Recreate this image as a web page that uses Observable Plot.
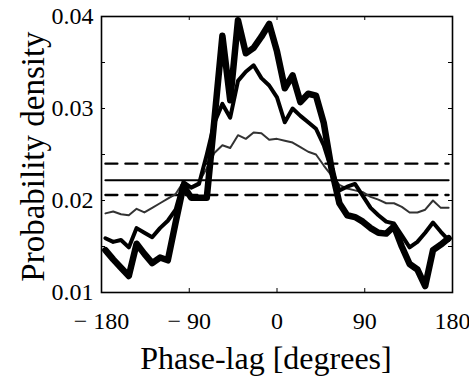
<!DOCTYPE html>
<html><head><meta charset="utf-8">
<script src="https://cdn.jsdelivr.net/npm/d3@7"></script>
<script src="https://cdn.jsdelivr.net/npm/@observablehq/plot@0.6"></script>
<style>
html,body{margin:0;padding:0;background:#fff;}
</style>
</head><body><div id="chart"></div>
<script>
// Bin centres (degrees)
const phaseLag = [-176,-168,-160,-152,-144,-136,-128,-120,-112,-104,-96,-88,-80,-72,-64,-56,-48,-40,-32,-24,-16,-8,0,8,16,24,32,40,48,56,64,72,80,88,96,104,112,120,128,136,144,152,160,168,176];
// thickest curve
const densityStrong = [0.0146,0.0136,0.0127,0.0118,0.0153,0.0142,0.0132,0.0138,0.0135,0.0176,0.0216,0.0203,0.0203,0.0203,0.0290,0.0379,0.0309,0.0396,0.0360,0.0366,0.0378,0.0392,0.0362,0.0322,0.0336,0.0307,0.0316,0.0314,0.0284,0.0234,0.0197,0.0184,0.0182,0.0177,0.0170,0.0165,0.0164,0.0172,0.0150,0.0131,0.0125,0.0107,0.0146,0.0152,0.0159];
// medium curve
const densityMid = [0.0159,0.0155,0.0157,0.0149,0.0170,0.0165,0.0160,0.0170,0.0178,0.0190,0.0220,0.0214,0.0218,0.0250,0.0285,0.0305,0.0290,0.0330,0.0340,0.0347,0.0333,0.0325,0.0312,0.0285,0.0300,0.0292,0.0285,0.0278,0.0260,0.0233,0.0211,0.0215,0.0218,0.0205,0.0192,0.0184,0.0177,0.0175,0.0162,0.0149,0.0155,0.0165,0.0176,0.0166,0.0157];
// thin grey curve
const densityWeak = [0.0186,0.0188,0.0185,0.0184,0.0191,0.0187,0.0192,0.0197,0.0202,0.0207,0.0220,0.0215,0.0220,0.0235,0.0252,0.0260,0.0257,0.0271,0.0267,0.0274,0.0273,0.0266,0.0267,0.0265,0.0263,0.0258,0.0253,0.0250,0.0238,0.0227,0.0217,0.0213,0.0211,0.0209,0.0204,0.0201,0.0197,0.0197,0.0193,0.0187,0.0187,0.0190,0.0200,0.0192,0.0192];
const boundSpan = [-176, 176];
const uniformLevel = [0.0222, 0.0222];
const upperBound = [0.0240, 0.0240];
const lowerBound = [0.0206, 0.0206];

const xTicks = [-180, -90, 0, 90, 180];
const xTickLabels = ["\u2212 180", "\u2212 90", "0", "90", "180"];
const yTicks = [0.01, 0.02, 0.03, 0.04];
const yTickLabels = ["0.01", "0.02", "0.03", "0.04"];
const yMinorTicks = [0.01, 0.015, 0.02, 0.025, 0.03, 0.035, 0.04];
const xTitle = "Phase-lag [degrees]";
const yTitle = "Probability density";

const toRows = (xs, ys) => xs.map((x, i) => ({x, y: ys[i]}));
const strong = toRows(phaseLag, densityStrong);
const mid = toRows(phaseLag, densityMid);
const weak = toRows(phaseLag, densityWeak);
const flat = toRows(boundSpan, uniformLevel);
const up = toRows(boundSpan, upperBound);
const lo = toRows(boundSpan, lowerBound);
const xLab = new Map(xTicks.map((t, i) => [t, xTickLabels[i]]));
const yLab = new Map(yTicks.map((t, i) => [t, yTickLabels[i]]));

const FONT = "Liberation Serif";
const W = 469, H = 378, ML = 101, MR = 17, MT = 16, MB = 86;
const PW = W - ML - MR, PH = H - MT - MB, TICK = 4;

const chart = Plot.plot({
  width: W, height: H,
  marginLeft: ML, marginRight: MR, marginTop: MT, marginBottom: MB,
  style: "font-family: 'Liberation Serif', serif; font-size: 24px; color: #000; background: #fff;",
  x: {domain: [-180, 180]},
  y: {domain: [0.01, 0.04]},
  marks: [
    Plot.line(up, {x: "x", y: "y", stroke: "#000", strokeWidth: 2.3, strokeDasharray: "12,8"}),
    Plot.line(lo, {x: "x", y: "y", stroke: "#000", strokeWidth: 2.3, strokeDasharray: "12,8"}),
    Plot.line(flat, {x: "x", y: "y", stroke: "#000", strokeWidth: 2}),
    Plot.line(weak, {x: "x", y: "y", stroke: "#333", strokeWidth: 2, strokeLinejoin: "round"}),
    Plot.line(mid, {x: "x", y: "y", stroke: "#000", strokeWidth: 4, strokeLinejoin: "round"}),
    Plot.line(strong, {x: "x", y: "y", stroke: "#000", strokeWidth: 6.5, strokeLinejoin: "round"}),
    Plot.ruleX(xTicks, {x: d => d, insetTop: PH - TICK, stroke: "#000", strokeWidth: 1}),
    Plot.ruleX(xTicks, {x: d => d, insetBottom: PH - TICK, stroke: "#000", strokeWidth: 1}),
    Plot.ruleY(yMinorTicks, {y: d => d, insetRight: PW - TICK, stroke: "#000", strokeWidth: 1}),
    Plot.ruleY(yMinorTicks, {y: d => d, insetLeft: PW - TICK, stroke: "#000", strokeWidth: 1}),
    Plot.frame({stroke: "#000", strokeWidth: 1.6}),
    Plot.axisX(xTicks, {tickSize: 0, tickPadding: 19, tickFormat: d => xLab.get(d), fontSize: 24, label: null}),
    Plot.axisY(yTicks, {tickSize: 0, tickPadding: 8, tickFormat: d => yLab.get(d), fontSize: 24, label: null}),
    Plot.text([xTitle], {frameAnchor: "bottom", lineAnchor: "bottom", textAnchor: "middle", dy: 76, dx: -11, fontSize: 32, text: d => d}),
    Plot.text([yTitle], {frameAnchor: "left", lineAnchor: "bottom", textAnchor: "middle", rotate: -90, dx: -58, dy: 2, fontSize: 33, text: d => d})
  ]
});
// force the serif face on every text node
chart.setAttribute("font-family", FONT);
chart.querySelectorAll("g, text, tspan").forEach(el => {
  if (el.hasAttribute("font-family")) el.setAttribute("font-family", FONT);
});
chart.querySelectorAll("text").forEach(t => {
  t.setAttribute("font-family", FONT);
  t.style.setProperty("font-family", "'Liberation Serif', serif", "important");
  t.style.removeProperty("font-variant");
  t.removeAttribute("font-variant");
});
document.getElementById("chart").appendChild(chart);
</script>
</body></html>
